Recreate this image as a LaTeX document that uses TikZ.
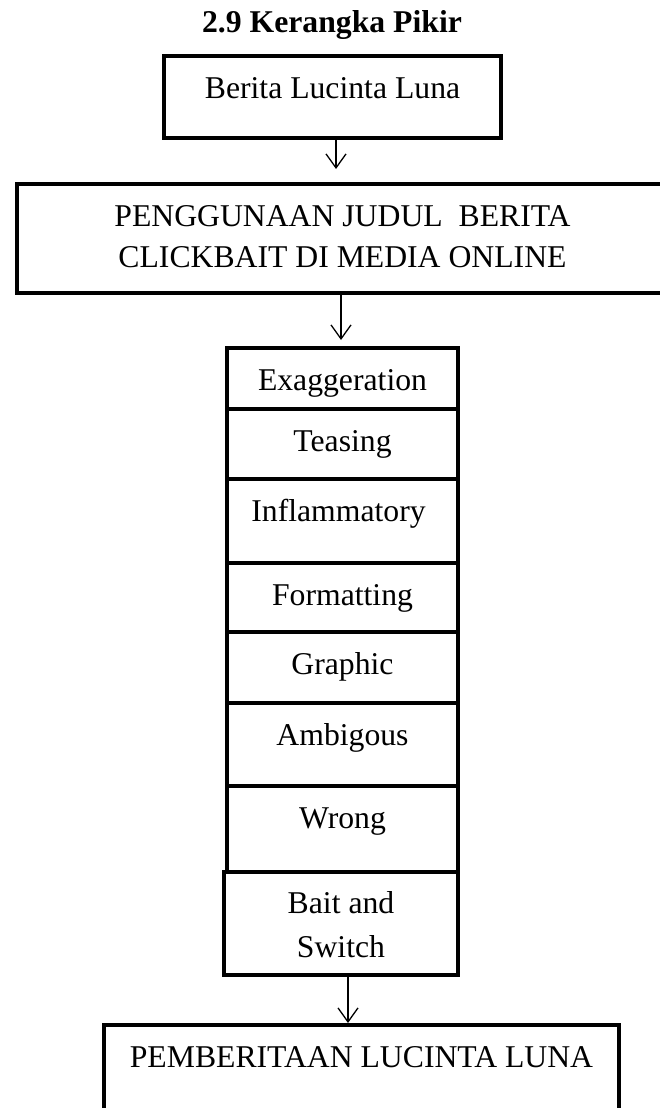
\documentclass[tikz, border = 0pt]{standalone}
\usepackage{fontspec}
\setmainfont{Liberation Serif}
\usetikzlibrary{arrows.meta}

\begin{document}
\begin{tikzpicture}[x = 1pt, y = -1pt, > = {Straight Barb[length = 14pt, width = 20pt]},
	kotak/.style = {draw, line width = 4pt, inner sep = 0pt, outer sep = 0pt, font = \fontsize{31.7}{41}\selectfont, align = center},
	sel/.style = {kotak, minimum width = 231pt, text height = 42pt, anchor = north},
	panah/.style = {->, line width = 1.3pt}]

\useasboundingbox (0, 0) rectangle (659, 1108);

% Title

\node [anchor = base, font = \fontsize{31.7}{41}\selectfont\bfseries] (kepala) at (332, 33) {2.9 Kerangka Pikir};

% Top boxes

\node [kotak, minimum width = 337pt, text height = 42pt, text depth = 40pt, anchor = north] (berita) at (332.5, 56) {Berita Lucinta Luna};
\node [kotak, minimum width = 651pt, text height = 83pt, text depth = 26pt, anchor = north] (judul) at (342.5, 184) {PENGGUNAAN JUDUL\ \ BERITA\\CLICKBAIT DI MEDIA ONLINE};

% Stack of clickbait types

\foreach \nama/\teks/\atas/\bawah in {exa/Exaggeration/348/409, tea/Teasing/409/479, inf/Inflammatory\ /479/563, for/Formatting/563/632, gra/Graphic/632/703, amb/Ambigous/703/786, wro/Wrong/786/872}
{

	% Height of the cell as \tinggi, depth below baseline as \dalam

	\pgfmathsetmacro{\tinggi}{\bawah - \atas}
	\pgfmathsetmacro{\dalam}{\tinggi - 42}
	\node [sel, minimum height = \tinggi pt, text depth = \dalam pt] (\nama) at (342.5, \atas) {\teks};
}

\node [sel, minimum width = 234pt, text height = 85pt, text depth = 18pt] (bait) at (341, 872) {Bait and\\[3pt]Switch};

% Bottom box

\node [kotak, minimum width = 515pt, text height = 42pt, text depth = 78pt, anchor = north] (akhir) at (361.5, 1025) {PEMBERITAAN LUCINTA LUNA};

% Arrows

\draw [panah, shorten > = 15pt] (berita.south -| 336, 0) -- (judul.north -| 336, 0);
\draw [panah, shorten > = 8pt] (judul.south -| 341, 0) -- (exa.north -| 341, 0);
\draw [panah, shorten > = 2pt] (bait.south -| 348, 0) -- (akhir.north -| 348, 0);

\end{tikzpicture}
\end{document}
